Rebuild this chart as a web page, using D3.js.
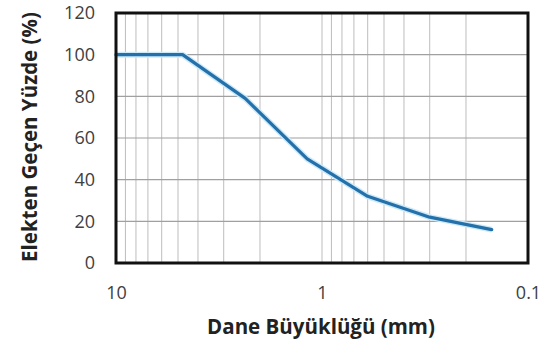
<!DOCTYPE html>
<head>
    <script src="https://d3js.org/d3.v7.min.js"></script>
    <style>
        body { margin: 0; background: #fff; }
        text { font-family: "Open Sans", Lato, sans-serif; }
    </style>
</head>
<body>
    <script>
        // data (particle size in mm, percent passing)
        const sizes = [10, 4.75, 2.36, 1.18, 0.6, 0.3, 0.15];
        const passing = [100, 100, 79, 50, 32, 22, 16];
        const xTicks = [10, 1, 0.1];
        const yTicks = [0, 20, 40, 60, 80, 100, 120];
        const xTitle = "Dane Büyüklüğü (mm)";
        const yTitle = "Elekten Geçen Yüzde (%)";

        const data = sizes.map((s, i) => ({ size: s, value: passing[i] }));

        // svg and margins
        const svg = d3.select("body")
            .append("svg")
            .attr("width", 556)
            .attr("height", 350);
        const margin = { top: 13, bottom: 87, left: 116, right: 28 };
        const width = 556 - margin.left - margin.right;
        const height = 350 - margin.top - margin.bottom;
        const chart = svg.append("g")
            .attr("transform", `translate(${margin.left},${margin.top})`);

        // scales (log, reversed)
        const xScale = d3.scaleLog()
            .domain([10, 0.1])
            .range([0, width]);
        const yScale = d3.scaleLinear()
            .domain([0, 120])
            .range([height, 0]);

        // vertical grid lines, 2..9 of every decade
        const minor = [];
        [1, 0.1].forEach(dec => {
            for (let k = 2; k <= 9; k++) minor.push(+(k * dec).toFixed(2));
        });
        minor.push(1);
        chart.append("g")
            .selectAll("line")
            .data(minor)
            .join("line")
            .attr("x1", d => xScale(d))
            .attr("x2", d => xScale(d))
            .attr("y1", 0)
            .attr("y2", height)
            .attr("stroke", "#bdbdbd")
            .attr("stroke-width", 1);

        // horizontal grid lines
        chart.append("g")
            .selectAll("line")
            .data(yTicks.slice(1, -1))
            .join("line")
            .attr("x1", 0)
            .attr("x2", width)
            .attr("y1", d => yScale(d))
            .attr("y2", d => yScale(d))
            .attr("stroke", "#a0a0a0")
            .attr("stroke-width", 1.2);

        // y axis labels
        const yAxis = chart.append("g")
            .call(d3.axisLeft(yScale).tickValues(yTicks).tickSize(0).tickPadding(21));
        yAxis.select(".domain").remove();
        yAxis.selectAll("text")
            .attr("font-size", 18)
            .attr("fill", "#404040")
            .style("font-family", "Open Sans, sans-serif");

        // x axis labels
        const xAxis = chart.append("g")
            .attr("transform", `translate(0,${height})`)
            .call(d3.axisBottom(xScale).tickValues(xTicks).tickFormat(d3.format("")).tickSize(0).tickPadding(23));
        xAxis.select(".domain").remove();
        xAxis.selectAll("text")
            .attr("font-size", 18)
            .attr("fill", "#404040")
            .style("font-family", "Open Sans, sans-serif");

        // the curve
        const line = d3.line()
            .x(d => xScale(d.size))
            .y(d => yScale(d.value));

        chart.append("path")
            .datum(data)
            .attr("fill", "none")
            .attr("stroke", "#cdeaf8")
            .attr("stroke-width", 6)
            .attr("stroke-linejoin", "round")
            .attr("d", line);
        chart.append("path")
            .datum(data)
            .attr("fill", "none")
            .attr("stroke", "#2470aa")
            .attr("stroke-width", 3.2)
            .attr("stroke-linejoin", "round")
            .attr("stroke-linecap", "round")
            .attr("d", line);

        // plot frame
        chart.append("rect")
            .attr("width", width)
            .attr("height", height)
            .attr("fill", "none")
            .attr("stroke", "#111")
            .attr("stroke-width", 3);

        // titles
        svg.append("text")
            .attr("x", 321)
            .attr("y", 334)
            .attr("text-anchor", "middle")
            .attr("font-size", 20.5)
            .attr("font-weight", "bold")
            .attr("fill", "#222")
            .text(xTitle);

        svg.append("text")
            .attr("transform", `translate(37,137) rotate(-90)`)
            .attr("text-anchor", "middle")
            .attr("font-size", 20.5)
            .attr("font-weight", "bold")
            .attr("fill", "#222")
            .text(yTitle);
    </script>
</body>
